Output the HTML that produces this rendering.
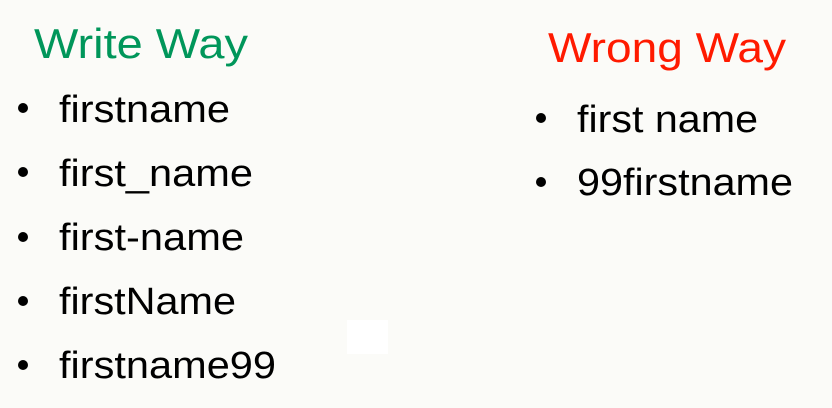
<!DOCTYPE html>
<html><head><meta charset="utf-8"><style>
html,body{margin:0;padding:0;background:#fbfbf8;}
svg{display:block}
text{font-family:"Liberation Sans",sans-serif;}
</style></head><body>
<svg width="832" height="408" viewBox="0 0 832 408" xmlns="http://www.w3.org/2000/svg">
<rect width="832" height="408" fill="#fbfbf8"/>
<rect x="347" y="320" width="41" height="34" fill="#ffffff"/>
<text x="34" y="58" font-size="42" fill="#00965a" textLength="214" lengthAdjust="spacingAndGlyphs">Write Way</text>
<g fill="#000">
<circle cx="23" cy="108" r="5"/>
<circle cx="23" cy="172" r="5"/>
<circle cx="23" cy="237" r="5"/>
<circle cx="23" cy="301" r="5"/>
<circle cx="23" cy="365" r="5"/>
<circle cx="541" cy="118" r="5"/>
<circle cx="541" cy="182" r="5"/>
</g>
<g font-size="38" fill="#000" lengthAdjust="spacingAndGlyphs">
<text x="59" y="122" textLength="171" lengthAdjust="spacingAndGlyphs">firstname</text>
<text x="59" y="186" textLength="194" lengthAdjust="spacingAndGlyphs">first_name</text>
<text x="59" y="250" textLength="185" lengthAdjust="spacingAndGlyphs">first-name</text>
<text x="59" y="314" textLength="177" lengthAdjust="spacingAndGlyphs">firstName</text>
<text x="59" y="378" textLength="217" lengthAdjust="spacingAndGlyphs">firstname99</text>
<text x="577" y="132" textLength="181" lengthAdjust="spacingAndGlyphs">first name</text>
<text x="577" y="195" textLength="216" lengthAdjust="spacingAndGlyphs">99firstname</text>
</g>
<text x="548" y="62" font-size="42" fill="#ff1a00" textLength="238" lengthAdjust="spacingAndGlyphs">Wrong Way</text>
</svg>
</body></html>
